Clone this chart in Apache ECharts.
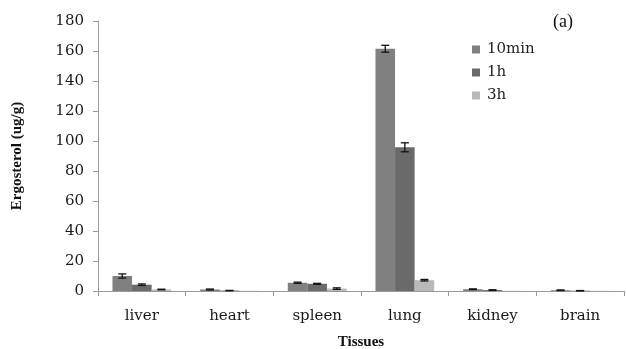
<!DOCTYPE html>
<html><head><meta charset="utf-8">
<script src="https://cdn.jsdelivr.net/npm/echarts@6/dist/echarts.min.js"></script>
<style>html,body{margin:0;padding:0;background:#fff}#c{width:626px;height:349px}</style>
</head><body><div id="c"></div>
<script>
var categories = ['liver', 'heart', 'spleen', 'lung', 'kidney', 'brain'];
var seriesNames = ['10min', '1h', '3h'];
var values10min = [10, 1.0, 5.5, 161.5, 1.2, 0.5];
var values1h = [4.2, 0.3, 4.8, 95.8, 0.6, 0.2];
var values3h = [1.0, 0.1, 1.6, 7.2, 0.1, 0.1];
var err10min = [1.4, 0.3, 0.4, 2.3, 0.2, 0.2];
var err1h = [0.5, 0.1, 0.3, 3.0, 0.2, 0.1];
var err3h = [0.2, 0, 0.5, 0.5, 0, 0];
var yTicks = [0, 20, 40, 60, 80, 100, 120, 140, 160, 180];

var colors = ['#808080', '#6a6a6a', '#b9b9b9'];
var allVals = [values10min, values1h, values3h];
var allErr = [err10min, err1h, err3h];
var gapFrac = 0.33;
var serif = 'DejaVu Serif';

var errData = [];
for (var s = 0; s < 3; s++) {
  for (var i = 0; i < categories.length; i++) {
    if (allErr[s][i] > 0) errData.push([i, allVals[s][i] - allErr[s][i], allVals[s][i] + allErr[s][i], s]);
  }
}

var series = seriesNames.map(function (n, s) {
  return {
    name: n, type: 'bar', data: allVals[s], barGap: '0%', barCategoryGap: (gapFrac * 100) + '%',
    itemStyle: { color: colors[s] }
  };
});
series.push({
  type: 'custom', data: errData, encode: { x: 0, y: [1, 2] }, z: 10,
  renderItem: function (params, api) {
    var ci = api.value(0), s = api.value(3);
    var catW = api.size([1, 0])[0];
    var bw = catW * (1 - gapFrac) / 3;
    var lo = api.coord([ci, api.value(1)]);
    var hi = api.coord([ci, api.value(2)]);
    var x = lo[0] + (s - 1) * bw;
    var cw = 4;
    var st = { stroke: '#111', lineWidth: 1.3 };
    return { type: 'group', children: [
      { type: 'line', shape: { x1: x, y1: lo[1], x2: x, y2: hi[1] }, style: st },
      { type: 'line', shape: { x1: x - cw, y1: hi[1], x2: x + cw, y2: hi[1] }, style: st },
      { type: 'line', shape: { x1: x - cw, y1: lo[1], x2: x + cw, y2: lo[1] }, style: st }
    ]};
  }
});

var chart = echarts.init(document.getElementById('c'), null, { renderer: 'canvas' });
chart.setOption({
  animation: false,
  backgroundColor: '#fff',
  grid: { left: 98, right: 2, top: 21, bottom: 58, containLabel: false, outerBoundsMode: 'none' },
  legend: {
    data: seriesNames, orient: 'vertical', left: 467, top: 37, itemWidth: 8, itemHeight: 8,
    itemGap: 8, icon: 'rect',
    textStyle: { fontFamily: serif, fontSize: 15, color: '#222', padding: [0, 0, 0, 2] }
  },
  title: {
    text: '(a)', left: 548, top: 8,
    textStyle: { fontFamily: 'Liberation Serif', fontSize: 18, fontWeight: 'normal', color: '#111' }
  },
  xAxis: {
    type: 'category', data: categories,
    name: 'Tissues', nameLocation: 'middle', nameGap: 44,
    nameTextStyle: { fontFamily: 'Liberation Serif', fontWeight: 'bold', fontSize: 15, color: '#111' },
    axisLine: { lineStyle: { color: '#9a9a9a', width: 1 } },
    axisTick: { show: true, length: 5, lineStyle: { color: '#9a9a9a' } },
    axisLabel: { fontFamily: serif, fontSize: 15, color: '#1a1a1a', margin: 18 }
  },
  yAxis: {
    type: 'value', min: 0, max: 180, interval: 20,
    name: 'Ergosterol (ug/g)', nameLocation: 'middle', nameGap: 73, nameRotate: 90,
    nameTextStyle: { fontFamily: 'Liberation Serif', fontWeight: 'bold', fontSize: 15, color: '#111' },
    splitLine: { show: false },
    axisLine: { show: true, lineStyle: { color: '#9a9a9a', width: 1 } },
    axisTick: { show: true, length: 5, lineStyle: { color: '#9a9a9a' } },
    axisLabel: { fontFamily: serif, fontSize: 15, color: '#1a1a1a', margin: 14,
      formatter: function (v) { return yTicks.indexOf(v) >= 0 ? String(v) : ''; } }
  },
  series: series
});
</script></body></html>
